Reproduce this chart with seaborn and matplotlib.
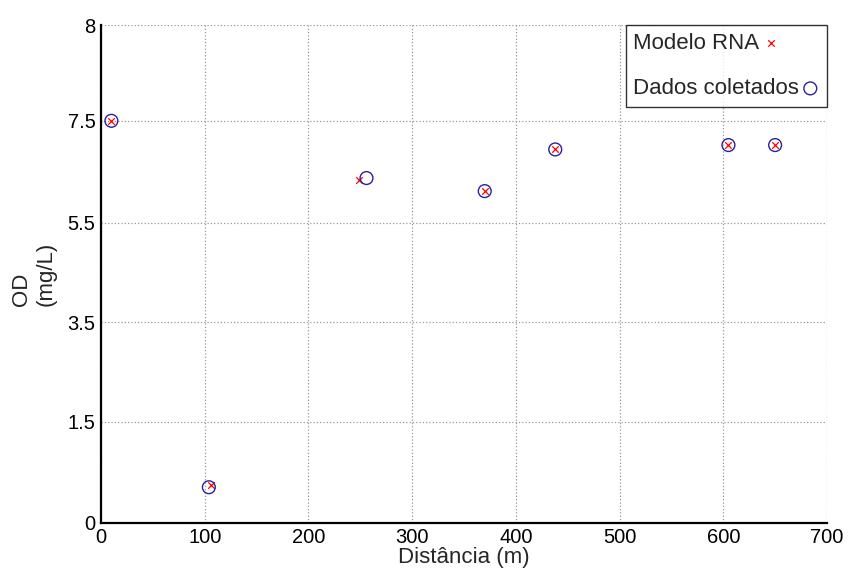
import numpy as np
import pandas as pd
import matplotlib
matplotlib.use('Agg')
import matplotlib.pyplot as plt
import seaborn as sns

# data (y in axis units)
dist_coletados = [10, 104, 256, 370, 438, 605, 650]
od_coletados = [6.46, 0.57, 5.54, 5.33, 6.00, 6.07, 6.07]
dist_rna = [10, 106, 249, 370, 438, 605, 650]
od_rna = [6.46, 0.60, 5.51, 5.33, 6.00, 6.07, 6.07]

y_tick_pos = [0, 1.62, 3.22, 4.82, 6.46, 8]
y_tick_labels = ['0', '1.5', '3.5', '5.5', '7.5', '8']
x_ticks = [0, 100, 200, 300, 400, 500, 600, 700]

sns.set_style('white')
plt.rcParams['font.family'] = ['Liberation Sans', 'DejaVu Sans']

df_rna = pd.DataFrame({'dist': dist_rna, 'od': od_rna})
df_col = pd.DataFrame({'dist': dist_coletados, 'od': od_coletados})

fig = plt.figure(figsize=(8.48, 5.75), dpi=100)
ax = fig.add_axes([0.1191, 0.0910, 0.8561, 0.8655])

sns.scatterplot(data=df_rna, x='dist', y='od', ax=ax, marker='x', color='red',
                s=22, linewidth=0.9, label='Modelo RNA', zorder=3)
sns.scatterplot(data=df_col, x='dist', y='od', ax=ax, marker='o', facecolor='none',
                edgecolor='#2a20a0', s=85, linewidth=1.0, label='Dados coletados', zorder=4)

ax.set_xlim(0, 700)
ax.set_ylim(0, 8)
ax.set_xticks(x_ticks)
ax.set_yticks(y_tick_pos)
ax.set_yticklabels(y_tick_labels)
ax.tick_params(axis='both', direction='in', length=5, width=1, labelsize=14.5, pad=4,
               colors='black')

ax.grid(True, linestyle=':', color='#999999', linewidth=0.9)
ax.set_axisbelow(True)
for side in ['top', 'right']:
    ax.spines[side].set_visible(False)
for side in ['left', 'bottom']:
    ax.spines[side].set_color('black')
    ax.spines[side].set_linewidth(1.6)

ax.set_xlabel('Distância (m)', fontsize=16, labelpad=0)
ax.set_ylabel('OD\n(mg/L)', fontsize=16, labelpad=8, multialignment='left')

leg = ax.legend(loc='upper right', markerfirst=False, fontsize=16, frameon=True,
                fancybox=False, edgecolor='black', borderaxespad=0, borderpad=0.35,
                labelspacing=1.1, handlelength=0.8, handletextpad=0.1)
leg.get_frame().set_linewidth(1.0)
# left-align the text, marker right after each label
for col in leg._legend_handle_box.get_children():
    col.align = 'left'

fig.savefig('out.png', dpi=100)
